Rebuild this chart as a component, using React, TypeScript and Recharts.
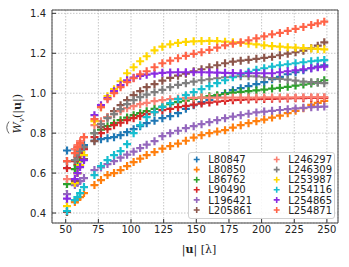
import React from "react";
import { ReferenceArea, Scatter, ScatterChart, CartesianGrid, XAxis, YAxis } from "recharts";

// |u| sample positions (lambda), shared by every baseline
const uValues = [51, 57, 59, 61, 64, 72, 77, 82, 87, 92, 97, 102, 107, 112, 118, 124, 130, 136, 142, 148, 154, 160, 166, 172, 178, 184, 190, 196, 202, 208, 214, 220, 226, 232, 238, 243, 248];

const L80847 = [0.713, 0.72, 0.725, 0.73, 0.74, 0.763, 0.77, 0.775, 0.78, 0.79, 0.805, 0.82, 0.835, 0.85, 0.862, 0.875, 0.885, 0.9, 0.922, 0.94, 0.955, 0.967, 0.985, 1.0, 1.015, 1.025, 1.035, 1.045, 1.055, 1.07, 1.082, 1.095, 1.105, 1.115, 1.125, 1.133, 1.14];
const L80850 = [null, 0.455, 0.468, 0.48, 0.5, 0.54, 0.565, 0.59, 0.6, 0.615, 0.635, 0.655, 0.672, 0.69, 0.705, 0.722, 0.735, 0.748, 0.762, 0.778, 0.79, 0.8, 0.808, 0.815, 0.828, 0.84, 0.85, 0.86, 0.868, 0.878, 0.888, 0.9, 0.912, 0.925, 0.942, 0.952, 0.962];
const L86762 = [0.545, 0.62, 0.64, 0.66, 0.69, 0.8, 0.817, 0.835, 0.85, 0.865, 0.878, 0.89, 0.9, 0.91, 0.922, 0.933, 0.945, 0.955, 0.963, 0.972, 0.978, 0.985, 0.99, 0.997, 1.003, 1.007, 1.01, 1.014, 1.018, 1.023, 1.027, 1.032, 1.038, 1.043, 1.048, 1.055, 1.065];
const L90490 = [0.625, 0.66, 0.68, 0.7, 0.72, 0.78, 0.8, 0.82, 0.84, 0.852, 0.865, 0.875, 0.885, 0.895, 0.905, 0.915, 0.922, 0.93, 0.937, 0.943, 0.948, 0.953, 0.958, 0.962, 0.965, 0.967, 0.969, 0.97, 0.971, 0.972, 0.973, 0.974, 0.975, 0.975, 0.976, 0.976, 0.977];
const L196421 = [0.495, 0.54, 0.55, 0.56, 0.575, 0.615, 0.628, 0.645, 0.66, 0.677, 0.692, 0.707, 0.725, 0.742, 0.76, 0.785, 0.8, 0.812, 0.825, 0.835, 0.845, 0.855, 0.865, 0.875, 0.883, 0.89, 0.897, 0.904, 0.908, 0.912, 0.916, 0.92, 0.924, 0.927, 0.93, 0.932, 0.933];
const L205861 = [0.405, 0.56, 0.6, 0.64, 0.67, 0.76, 0.83, 0.88, 0.91, 0.94, 0.965, 0.99, 1.01, 1.03, 1.045, 1.063, 1.077, 1.088, 1.098, 1.11, 1.12, 1.13, 1.14, 1.15, 1.158, 1.163, 1.167, 1.172, 1.177, 1.182, 1.19, 1.198, 1.205, 1.213, 1.225, 1.238, 1.255];
const L246297 = [0.57, 0.72, 0.74, 0.76, 0.78, 0.84, 0.86, 0.88, 0.895, 0.91, 0.925, 0.935, 0.945, 0.952, 0.96, 0.965, 0.97, 0.973, 0.975, 0.977, 0.978, 0.978, 0.978, 0.978, 0.978, 0.978, 0.978, 0.978, 0.979, 0.979, 0.979, 0.979, 0.979, 0.98, 0.98, 0.98, 0.98];
const L246309 = [0.658, 0.665, 0.69, 0.71, 0.73, 0.8, 0.845, 0.875, 0.895, 0.92, 0.945, 0.965, 0.98, 0.993, 1.005, 1.017, 1.03, 1.042, 1.05, 1.058, 1.065, 1.07, 1.075, 1.08, 1.083, 1.085, 1.085, 1.084, 1.08, 1.076, 1.072, 1.068, 1.063, 1.058, 1.055, 1.052, 1.05];
const L253987 = [0.435, 0.55, 0.6, 0.64, 0.69, 0.86, 0.93, 0.985, 1.02, 1.06, 1.1, 1.13, 1.16, 1.185, 1.215, 1.233, 1.245, 1.252, 1.257, 1.26, 1.261, 1.262, 1.261, 1.258, 1.255, 1.252, 1.248, 1.245, 1.24, 1.236, 1.233, 1.23, 1.228, 1.226, 1.224, 1.222, 1.22];
const L254116 = [0.41, 0.465, 0.48, 0.5, 0.53, 0.59, 0.635, 0.665, 0.69, 0.71, 0.745, 0.8, 0.84, 0.88, 0.905, 0.93, 0.95, 0.97, 0.99, 1.005, 1.02, 1.035, 1.05, 1.065, 1.08, 1.095, 1.107, 1.117, 1.125, 1.133, 1.14, 1.145, 1.15, 1.155, 1.16, 1.163, 1.166];
const L254865 = [0.472, 0.57, 0.6, 0.63, 0.665, 0.89, 0.94, 0.975, 1.01, 1.04, 1.065, 1.078, 1.087, 1.093, 1.098, 1.102, 1.104, 1.105, 1.105, 1.105, 1.105, 1.104, 1.103, 1.102, 1.101, 1.1, 1.1, 1.1, 1.1, 1.1, 1.105, 1.11, 1.115, 1.12, 1.125, 1.13, 1.133];
const L254871 = [0.66, 0.7, 0.73, 0.75, 0.78, 0.87, 0.93, 0.97, 1.0, 1.03, 1.055, 1.075, 1.095, 1.11, 1.13, 1.15, 1.163, 1.175, 1.187, 1.197, 1.205, 1.217, 1.228, 1.24, 1.248, 1.255, 1.265, 1.275, 1.285, 1.295, 1.302, 1.312, 1.322, 1.332, 1.342, 1.35, 1.358];

const seriesNames = ["L80847", "L80850", "L86762", "L90490", "L196421", "L205861", "L246297", "L246309", "L253987", "L254116", "L254865", "L254871"];
const seriesValues = [L80847, L80850, L86762, L90490, L196421, L205861, L246297, L246309, L253987, L254116, L254865, L254871];
const seriesColors = ["#1f77b4", "#ff7f0e", "#2ca02c", "#d62728", "#9467bd", "#8c564b", "#fa8072", "#7f7f7f", "#ffd700", "#17becf", "#8a2be2", "#ff6347"];

const xTicks = [50, 75, 100, 125, 150, 175, 200, 225, 250];
const yTicks = [0.4, 0.6, 0.8, 1.0, 1.2, 1.4];

const font = "DejaVu Sans, sans-serif";

const plus = (color: string, r: number, w: number) => (props: any) => {
  const { cx, cy } = props;
  if (cx == null || cy == null) return <g />;
  return <path d={`M${cx - r},${cy}H${cx + r}M${cx},${cy - r}V${cy + r}`} stroke={color} strokeWidth={w} fill="none" />;
};

function YLabel({ viewBox }: any) {
  const cy = viewBox ? viewBox.y + viewBox.height / 2 - 2 : 114;
  return (
    <g transform={`translate(21, ${cy}) rotate(-90)`}>
      <path d="M-19,-12 Q-13,-16.5 -7,-12" stroke="#222" strokeWidth={0.7} fill="none" />
      <text x={-19} y={0} fontFamily="DejaVu Serif, serif" fontSize={11} fill="#222">
        <tspan fontStyle="italic">W</tspan>
        <tspan fontStyle="italic" fontSize={7.5} dy={2.5}>v</tspan>
        <tspan dy={-2.5}>(|</tspan>
        <tspan fontWeight="bold">u</tspan>
        <tspan>|)</tspan>
      </text>
    </g>
  );
}

function XLabel({ viewBox }: any) {
  const cx = viewBox ? viewBox.x + viewBox.width / 2 : 195;
  return (
    <text x={cx + 4} y={253} textAnchor="middle" fontFamily="DejaVu Serif, serif" fontSize={11} fill="#222">
      <tspan>|</tspan>
      <tspan fontWeight="bold">u</tspan>
      <tspan>| [λ]</tspan>
    </text>
  );
}

// legend drawn as an overlay so it does not shrink the plot area
function LegendOverlay() {
  return (
    <svg width={349} height={267} style={{ position: "absolute", left: 0, top: 0, pointerEvents: "none" }}>
      <rect x={188.5} y={152.5} width={146} height={66} rx={2.5} fill="#fff" fillOpacity={0.85} stroke="#d0d0d0" />
      {seriesNames.map((name, i) => {
        const col = Math.floor(i / 6);
        const row = i % 6;
        const mx = 196.7 + 80 * col;
        const my = 159.5 + 10.1 * row;
        return (
          <g key={name}>
            <path d={`M${mx - 3},${my}H${mx + 3}M${mx},${my - 3}V${my + 3}`} stroke={seriesColors[i]} strokeWidth={1.6} />
            <text x={mx + 11.6} y={my + 3.6} fontFamily={font} fontSize={10} fill="#222">
              {name}
            </text>
          </g>
        );
      })}
    </svg>
  );
}

export default function App() {
  const series = seriesValues.map((vals) =>
    uValues.map((u, i) => ({ u, w: vals[i] })).filter((p) => p.w !== null)
  );

  return (
    <div style={{ position: "absolute", left: 0, top: 0, width: 349, height: 267, background: "#fff" }}>
      <ScatterChart width={349} height={267} margin={{ top: 10, right: 11, bottom: 0, left: 0 }}>
        <CartesianGrid stroke="#b8b8b8" strokeDasharray="1.5 1.5" strokeWidth={0.8} />
        <XAxis
          type="number"
          dataKey="u"
          domain={[39.5, 258.5]}
          ticks={xTicks}
          height={44}
          tickSize={-4}
          tickMargin={7}
          tickLine={{ stroke: "#333" }}
          axisLine={false}
          tick={{ fontFamily: font, fontSize: 10, fill: "#222" }}
          label={<XLabel />}
        />
        <YAxis
          type="number"
          dataKey="w"
          domain={[0.35, 1.4167]}
          ticks={yTicks}
          width={52}
          tickSize={-4}
          tickMargin={10}
          tickLine={{ stroke: "#333" }}
          axisLine={false}
          tickFormatter={(v: number) => v.toFixed(1)}
          tick={{ fontFamily: font, fontSize: 10, fill: "#222" }}
          label={<YLabel />}
        />
        <ReferenceArea x1={39.5} x2={258.5} y1={0.35} y2={1.4167} fill="none" stroke="#444" strokeWidth={1} />
        {series.map((data, i) => (
          <Scatter
            key={seriesNames[i]}
            name={seriesNames[i]}
            data={data}
            fill={seriesColors[i]}
            shape={plus(seriesColors[i], 4, 2.2)}
            isAnimationActive={false}
          />
        ))}
      </ScatterChart>
      <LegendOverlay />
    </div>
  );
}
